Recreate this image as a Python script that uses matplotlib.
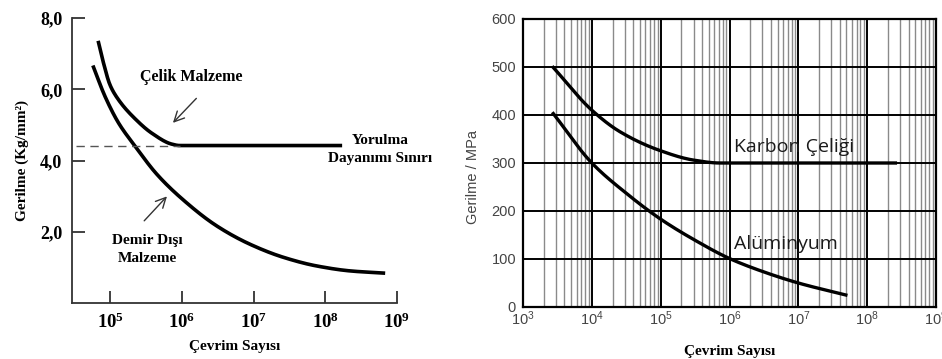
import numpy as np
import matplotlib.pyplot as plt
from matplotlib.ticker import FixedLocator, NullFormatter

plt.rcParams['mathtext.fontset'] = 'custom'
plt.rcParams['mathtext.rm'] = 'Liberation Serif'
plt.rcParams['mathtext.bf'] = 'Liberation Serif:bold'
plt.rcParams['mathtext.sf'] = 'Liberation Sans'

# Sol grafik: Çelik ve demir dışı malzeme (log10 çevrim, Kg/mm2)
celik_logN = [4.84, 4.91, 5.0, 5.12, 5.35, 5.58, 5.86, 5.97, 8.21]
celik_s = [7.31, 6.73, 6.12, 5.70, 5.17, 4.77, 4.46, 4.42, 4.42]
demir_logN = [4.77, 4.93, 5.12, 5.35, 5.65, 6.0, 6.49, 6.95, 7.42, 7.88, 8.35, 8.81]
demir_s = [6.62, 5.80, 5.05, 4.40, 3.62, 2.93, 2.16, 1.65, 1.28, 1.04, 0.90, 0.84]
left_yticks = [2.0, 4.0, 6.0, 8.0]
left_ylabels = ['2,0', '4,0', '6,0', '8,0']
left_xdec = [5, 6, 7, 8, 9]
yorulma = 4.42

# Sağ grafik: Karbon çeliği ve alüminyum (log10 çevrim, MPa)
karbon_logN = [3.44, 4.0, 4.41, 4.97, 5.48, 5.86, 8.41]
karbon_s = [499, 410, 365, 327, 306, 300, 300]
alu_logN = [3.44, 4.0, 4.5, 5.0, 5.5, 6.0, 6.5, 7.0, 7.69]
alu_s = [403, 300, 237, 183, 139, 101, 73, 50, 25]
right_xdec = [3, 4, 5, 6, 7, 8, 9]
right_yticks = [0, 100, 200, 300, 400, 500, 600]


def pchip(lx, ys, n=300):
    # monotone cubic (Fritsch-Carlson) through the read points
    x = np.asarray(lx, float)
    y = np.asarray(ys, float)
    h = np.diff(x)
    d = np.diff(y) / h
    m = np.zeros_like(y)
    m[0], m[-1] = d[0], d[-1]
    for i in range(1, len(x) - 1):
        if d[i - 1] * d[i] <= 0:
            m[i] = 0
        else:
            w1 = 2 * h[i] + h[i - 1]
            w2 = h[i] + 2 * h[i - 1]
            m[i] = (w1 + w2) / (w1 / d[i - 1] + w2 / d[i])
    xs = np.linspace(x[0], x[-1], n)
    out = np.empty_like(xs)
    for k, xv in enumerate(xs):
        i = min(np.searchsorted(x, xv, side='right') - 1, len(x) - 2)
        t = (xv - x[i]) / h[i]
        out[k] = ((2 * t**3 - 3 * t**2 + 1) * y[i] + (t**3 - 2 * t**2 + t) * h[i] * m[i]
                  + (-2 * t**3 + 3 * t**2) * y[i + 1] + (t**3 - t**2) * h[i] * m[i + 1])
    return 10 ** xs, out


serif = ['Liberation Serif', 'DejaVu Serif']
sans = ['Liberation Sans', 'DejaVu Sans']
calibri = ['Open Sans', 'DejaVu Sans']

fig = plt.figure(figsize=(9.42, 3.59), dpi=100)

# ---------------- left panel ----------------
ax1 = fig.add_axes([72 / 942, 1 - 303 / 359, 325 / 942, 285 / 359])
ax1.set_xscale('log')
ax1.set_xlim(10 ** 4.47, 1e9)
ax1.set_ylim(0, 8)

x, y = pchip(celik_logN, celik_s)
ax1.plot(x, y, color='black', lw=2.6)
x, y = pchip(demir_logN, demir_s)
ax1.plot(x, y, color='black', lw=2.6)
ax1.plot([10 ** 4.52, 10 ** celik_logN[7]], [yorulma, yorulma], color='#555555',
         lw=1.0, ls=(0, (6, 4)))

for s in ['top', 'right']:
    ax1.spines[s].set_visible(False)
for s in ['left', 'bottom']:
    ax1.spines[s].set_linewidth(1.3)
    ax1.spines[s].set_color('#333333')

ax1.set_yticks(left_yticks)
ax1.set_yticklabels(left_ylabels, fontfamily=serif, fontweight='bold', fontsize=13)
ax1.xaxis.set_major_locator(FixedLocator([10.0 ** d for d in left_xdec]))
ax1.xaxis.set_minor_locator(FixedLocator([]))
ax1.set_xticklabels([r'$\mathbf{10^{%d}}$' % d for d in left_xdec], fontsize=13.5)
ax1.tick_params(axis='both', direction='in', length=9, width=1.3, color='#333333', pad=7)

ax1.set_ylabel('Gerilme (Kg/mm²)', fontfamily=serif, fontweight='bold', fontsize=11,
               labelpad=8)
ax1.set_xlabel('Çevrim Sayısı', fontfamily=serif, fontweight='bold', fontsize=11,
               labelpad=6)

ax1.text(10 ** 6.13, 6.35, 'Çelik Malzeme', fontfamily=serif, fontweight='bold',
         fontsize=11.5, ha='center', va='center')
ax1.annotate('', xy=(10 ** 5.85, 5.0), xytext=(10 ** 6.23, 5.8),
             arrowprops=dict(arrowstyle='->', lw=1.0, color='#333333',
                             mutation_scale=18))
ax1.text(10 ** 8.76, 4.3, 'Yorulma\nDayanımı Sınırı', fontfamily=serif,
         fontweight='bold', fontsize=11, ha='center', va='center', linespacing=1.5)
ax1.text(10 ** 5.52, 1.5, 'Demir Dışı\nMalzeme', fontfamily=serif, fontweight='bold',
         fontsize=11, ha='center', va='center', linespacing=1.5)
ax1.annotate('', xy=(10 ** 5.82, 3.05), xytext=(10 ** 5.45, 2.25),
             arrowprops=dict(arrowstyle='->', lw=1.0, color='#333333',
                             mutation_scale=18))

# ---------------- right panel ----------------
ax2 = fig.add_axes([523 / 942, 1 - 307 / 359, 413 / 942, 288 / 359])
ax2.set_xscale('log')
ax2.set_xlim(1e3, 1e9)
ax2.set_ylim(0, 600)

ax2.xaxis.set_major_locator(FixedLocator([10.0 ** d for d in right_xdec]))
minors = [k * 10.0 ** d for d in right_xdec[:-1] for k in range(2, 10)]
ax2.xaxis.set_minor_locator(FixedLocator(minors))
ax2.xaxis.set_minor_formatter(NullFormatter())
ax2.set_yticks(right_yticks)
ax2.grid(which='minor', axis='x', color='#8a8a8a', lw=1.0)
ax2.grid(which='major', axis='x', color='black', lw=1.4)
ax2.grid(which='major', axis='y', color='black', lw=1.4)
ax2.set_axisbelow(True)

x, y = pchip(karbon_logN, karbon_s)
ax2.plot(x, y, color='black', lw=2.4)
x, y = pchip(alu_logN, alu_s)
ax2.plot(x, y, color='black', lw=2.4)

for s in ax2.spines.values():
    s.set_linewidth(1.6)
    s.set_color('black')

ax2.set_xticklabels([r'$\mathsf{10^{%d}}$' % d for d in right_xdec])
ax2.tick_params(axis='both', which='both', length=0, labelcolor='#444444',
                labelsize=10.5)
ax2.tick_params(axis='x', pad=2)
ax2.tick_params(axis='y', pad=5)
for lab in ax2.get_yticklabels():
    lab.set_fontfamily(sans)

ax2.set_ylabel('Gerilme / MPa', fontfamily=sans, fontsize=10.5, color='#444444')
ax2.yaxis.set_label_coords(-0.103, 0.45)
ax2.set_xlabel('Çevrim Sayısı', fontfamily=serif, fontweight='bold', fontsize=11,
               labelpad=12)

ax2.text(10 ** 6.07, 333, 'Karbon Çeliği', fontfamily=calibri,
         fontsize=14, ha='left', va='center', color='#1a1a1a')
ax2.text(10 ** 6.07, 131, 'Alüminyum', fontfamily=calibri,
         fontsize=14, ha='left', va='center', color='#1a1a1a')

fig.savefig('out.png', dpi=100)
